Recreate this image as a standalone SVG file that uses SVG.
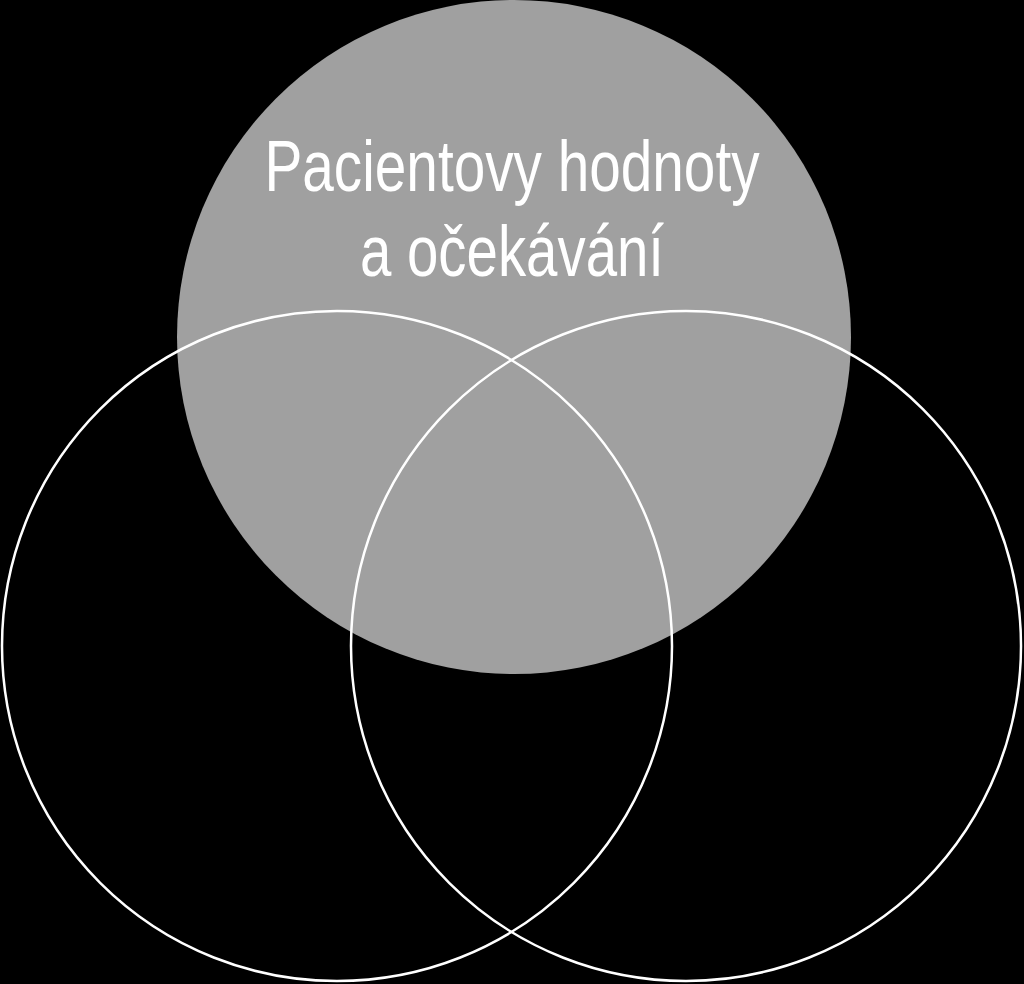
<svg xmlns="http://www.w3.org/2000/svg" width="1024" height="984" viewBox="0 0 1024 984">
<style>
.ring{fill:none;stroke:#ffffff;stroke-width:2.5}
.lbl{fill:#ffffff;font-family:"Liberation Sans Narrow","Liberation Sans",Arial,sans-serif;font-size:72px;text-anchor:middle}
</style>
<rect width="1024" height="984" fill="#000000"/>
<g id="node-patient">
<circle cx="514" cy="337" r="337" fill="#a0a0a0"/>
<text class="lbl" x="512" y="191" textLength="495" lengthAdjust="spacingAndGlyphs">Pacientovy hodnoty</text>
<text class="lbl" x="512" y="276" textLength="304" lengthAdjust="spacingAndGlyphs">a očekávání</text>
</g>
<g id="node-left">
<circle class="ring" cx="337" cy="646" r="335"/>
</g>
<g id="node-right">
<circle class="ring" cx="686" cy="646" r="335"/>
</g>
<g id="connectors"></g>
</svg>
